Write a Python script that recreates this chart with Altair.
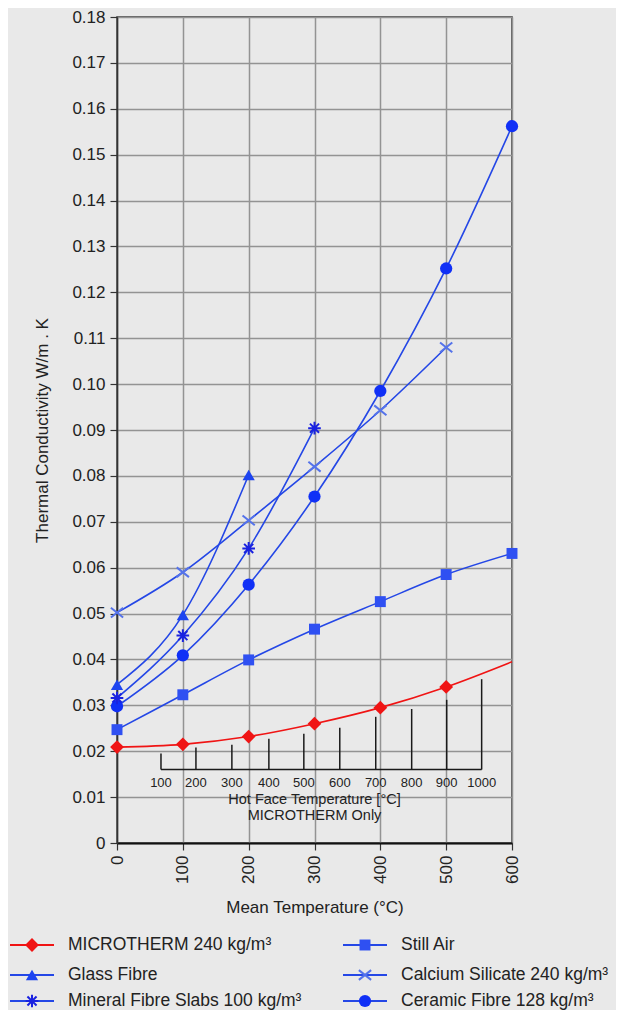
import altair as alt
import pandas as pd

# ---------------- data ----------------
names = [
    "MICROTHERM 240 kg/m³",
    "Still Air",
    "Glass Fibre",
    "Calcium Silicate 240 kg/m³",
    "Mineral Fibre Slabs 100 kg/m³",
    "Ceramic Fibre 128 kg/m³",
]

microtherm_t = [0, 100, 200, 300, 400, 500, 600]
microtherm_k = [0.0209, 0.0215, 0.0232, 0.0260, 0.0295, 0.0340, 0.0395]
microtherm_marked = [True, True, True, True, True, True, False]

still_air_t = [0, 100, 200, 300, 400, 500, 600]
still_air_k = [0.0247, 0.0323, 0.0399, 0.0466, 0.0526, 0.0585, 0.0631]

glass_t = [0, 100, 200]
glass_k = [0.0345, 0.0497, 0.0802]

mineral_t = [0, 100, 200, 300]
mineral_k = [0.0316, 0.0452, 0.0642, 0.0904]

calcium_t = [0, 100, 200, 300, 400, 500]
calcium_k = [0.0502, 0.0590, 0.0703, 0.0820, 0.0943, 0.1080]

ceramic_t = [0, 100, 200, 300, 400, 500, 600]
ceramic_k = [0.0298, 0.0409, 0.0563, 0.0755, 0.0985, 0.1252, 0.1562]

# inset: hot face temperature scale (MICROTHERM only)
hot_labels = ["100", "200", "300", "400", "500", "600", "700", "800", "900", "1000"]
hot_t = [66.8, 119.9, 174.5, 230.7, 283.8, 338.4, 393.0, 447.6, 500.8, 553.9]
hot_top = [0.0195, 0.0208, 0.0214, 0.0227, 0.0238, 0.0251, 0.0275, 0.0292, 0.0312, 0.0357]
hot_base = 0.0160
hot_label_k = 0.0130
inset_title_lines = ["Hot Face Temperature [°C]", "MICROTHERM Only"]
inset_title_k = [0.0094, 0.0058]
inset_title_t = 300

x_ticks = [0, 100, 200, 300, 400, 500, 600]
y_ticks = [round(i * 0.01, 2) for i in range(19)]

# ---------------- styles ----------------
RED = "#f01414"
LINE_BLUE = "#2447e6"
style = {
    names[0]: dict(line=RED, mark=RED, shape="diamond", size=190, filled=True),
    names[1]: dict(line=LINE_BLUE, mark="#2f50f2", shape="square", size=120, filled=True),
    names[2]: dict(line=LINE_BLUE, mark="#1d44f0", shape="triangle-up", size=150, filled=True),
    names[3]: dict(line=LINE_BLUE, mark="#5573ea", shape="M-1,-0.8L1,0.8M-1,0.8L1,-0.8", size=150, filled=False),
    names[4]: dict(line=LINE_BLUE, mark="#1a22e0", shape="M0,-1L0,1M-1,0L1,0M-0.72,-0.72L0.72,0.72M-0.72,0.72L0.72,-0.72", size=160, filled=False),
    names[5]: dict(line=LINE_BLUE, mark="#1030f6", shape="circle", size=150, filled=True),
}

series_data = [
    (names[0], microtherm_t, microtherm_k, microtherm_marked),
    (names[1], still_air_t, still_air_k, [True] * len(still_air_t)),
    (names[2], glass_t, glass_k, [True] * len(glass_t)),
    (names[3], calcium_t, calcium_k, [True] * len(calcium_t)),
    (names[4], mineral_t, mineral_k, [True] * len(mineral_t)),
    (names[5], ceramic_t, ceramic_k, [True] * len(ceramic_t)),
]

rows = []
for name, ts, ks, marked in series_data:
    st = style[name]
    for t, k, m in zip(ts, ks, marked):
        rows.append(dict(series=name, t=t, k=k, marked=m, lcolor=st["line"], mcolor=st["mark"],
                         shape=st["shape"], msize=st["size"], filled=st["filled"]))
df = pd.DataFrame(rows)

# ---------------- scales / axes ----------------
FONT = "Liberation Sans"
PLOT_W, PLOT_H = 395, 826
xs = alt.Scale(domain=[0, 600], zero=False, nice=False)
ys = alt.Scale(domain=[0, 0.18], zero=False, nice=False)

xaxis = alt.Axis(
    values=x_ticks, title="Mean Temperature (°C)", labelAngle=270, labelAlign="right",
    labelBaseline="middle", tickSize=7, labelPadding=5, grid=True,
    gridColor="#939393", gridWidth=1.5, domainColor="#111111", domainWidth=2.2,
    tickColor="#333333", tickWidth=1.2, titleX=PLOT_W / 2, titleY=64, titleBaseline="middle",
)
yaxis = alt.Axis(
    values=y_ticks, title="Thermal Conductivity W/m . K",
    labelExpr="datum.value == 0 ? '0' : format(datum.value, '.2f')",
    tickSize=7, labelPadding=5, grid=True, gridColor="#939393", gridWidth=1.5,
    domainColor="#333333", domainWidth=1.5, tickColor="#333333", tickWidth=1.2,
    titleX=-75, titleY=PLOT_H / 2, titleBaseline="middle", titleAlign="center",
)


def X(field="t"):
    return alt.X(f"{field}:Q", scale=xs, axis=xaxis)


def Y(field="k"):
    return alt.Y(f"{field}:Q", scale=ys, axis=yaxis)


lines = alt.Chart(df).mark_line(interpolate="monotone", strokeWidth=1.6).encode(
    x=X(), y=Y(), color=alt.Color("lcolor:N", scale=None), detail="series:N"
)

pts_filled = alt.Chart(df[df.marked & df.filled]).mark_point(filled=True, opacity=1).encode(
    x=X(), y=Y(),
    shape=alt.Shape("shape:N", scale=None),
    color=alt.Color("mcolor:N", scale=None),
    size=alt.Size("msize:Q", scale=None),
)
pts_stroked = alt.Chart(df[df.marked & ~df.filled]).mark_point(filled=False, opacity=1, strokeWidth=2).encode(
    x=X(), y=Y(),
    shape=alt.Shape("shape:N", scale=None),
    color=alt.Color("mcolor:N", scale=None),
    size=alt.Size("msize:Q", scale=None),
)

inset_df = pd.DataFrame(dict(t=hot_t, k=[hot_base] * len(hot_t), k2=hot_top,
                             lk=[hot_label_k] * len(hot_t), label=hot_labels))
inset_ticks = alt.Chart(inset_df).mark_rule(color="#1a1a1a", strokeWidth=1.5).encode(
    x=X(), y=Y(), y2="k2:Q"
)
inset_base_df = pd.DataFrame(dict(t=[hot_t[0]], t2=[hot_t[-1]], k=[hot_base]))
inset_base = alt.Chart(inset_base_df).mark_rule(color="#1a1a1a", strokeWidth=1.5).encode(
    x=X(), x2="t2:Q", y=Y()
)
inset_labels = alt.Chart(inset_df).mark_text(fontSize=13, baseline="middle", align="center",
                                             color="#222222", font=FONT).encode(
    x=X(), y=Y("lk"), text="label:N"
)
inset_title_df = pd.DataFrame(dict(t=[inset_title_t] * 2, k=inset_title_k, label=inset_title_lines))
inset_titles = alt.Chart(inset_title_df).mark_text(fontSize=14.5, baseline="middle", align="center",
                                                   color="#222222", font=FONT).encode(
    x=X(), y=Y(), text="label:N"
)

main = alt.layer(inset_ticks, inset_base, inset_labels, inset_titles, lines, pts_filled, pts_stroked)

# ---------------- manual legend (pixel layout below the plot) ----------------
LEG_COL_X = [-107, 226]
LEG_SYM_W = 44
LEG_LABEL_DX = 58
LEG_ROW_Y = [928, 958, 984]
leg_rows = []
for i, name in enumerate(names):
    c, r = i % 2, i // 2
    st = style[name]
    x0 = LEG_COL_X[c]
    leg_rows.append(dict(series=name, lx1=x0, lx2=x0 + LEG_SYM_W, lxm=x0 + LEG_SYM_W / 2,
                         ltx=x0 + LEG_LABEL_DX, ly=LEG_ROW_Y[r], lcolor=st["line"],
                         mcolor=st["mark"], shape=st["shape"], msize=st["size"], filled=st["filled"]))
leg = pd.DataFrame(leg_rows)

LX = lambda f: alt.X(f"{f}:Q", scale=None, axis=None)
LY = alt.Y("ly:Q", scale=None, axis=None)

leg_lines = alt.Chart(leg).mark_rule(strokeWidth=2).encode(
    x=LX("lx1"), x2="lx2:Q", y=LY, color=alt.Color("lcolor:N", scale=None)
)
leg_pf = alt.Chart(leg[leg.filled]).mark_point(filled=True, opacity=1).encode(
    x=LX("lxm"), y=LY, shape=alt.Shape("shape:N", scale=None),
    color=alt.Color("mcolor:N", scale=None), size=alt.Size("msize:Q", scale=None)
)
leg_ps = alt.Chart(leg[~leg.filled]).mark_point(filled=False, opacity=1, strokeWidth=2).encode(
    x=LX("lxm"), y=LY, shape=alt.Shape("shape:N", scale=None),
    color=alt.Color("mcolor:N", scale=None), size=alt.Size("msize:Q", scale=None)
)
leg_text = alt.Chart(leg).mark_text(fontSize=17.5, align="left", baseline="middle",
                                    color="#222222", font=FONT).encode(
    x=LX("ltx"), y=LY, text="series:N"
)
legend = alt.layer(leg_lines, leg_pf, leg_ps, leg_text)

chart = (
    alt.layer(main, legend)
    .resolve_scale(x="independent", y="independent")
    .properties(
        width=PLOT_W, height=PLOT_H,
        autosize=alt.AutoSizeParams(type="none"),
        padding={"left": 109, "top": 9, "right": 104, "bottom": 167},
        background="#e9e9e9",
    )
    .configure(font=FONT)
    .configure_view(stroke="#333333", strokeWidth=1.5)
    .configure_axis(
        labelFont=FONT, titleFont=FONT, labelFontSize=17, titleFontSize=17,
        labelColor="#222222", titleColor="#222222", titleFontWeight="normal",
    )
)

chart.save("out.html", embed_options={"renderer": "svg", "actions": False})
